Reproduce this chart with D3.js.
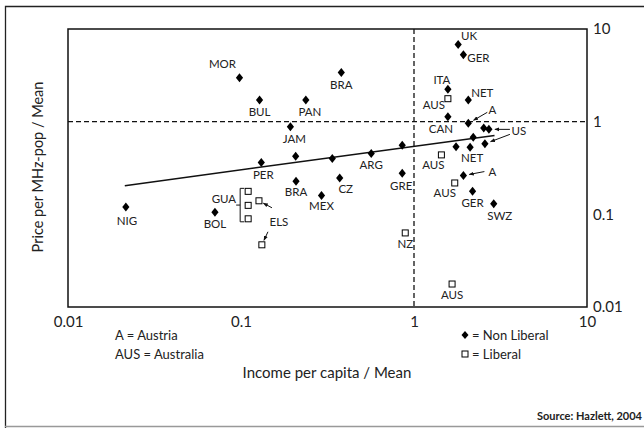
<!DOCTYPE html>
<html>
<head>
  <meta charset="utf-8">
  <script src="https://cdnjs.cloudflare.com/ajax/libs/d3/7.8.5/d3.min.js"></script>
  <title>Price vs income</title>
  <style>
    body { margin: 0; background: #fff; }
    text { font-family: Lato, "Open Sans", sans-serif; fill: #222; }
  </style>
</head>
<body>
<script>
// Non liberal countries (diamonds)
var nlNames = ["MOR","BRA","BUL","PAN","JAM","PER","","","BRA","CZ","MEX","NIG","BOL",
               "ARG","","GRE","UK","GER","ITA","NET","CAN","A","US","US","","","NET","",
               "A","GER","SWZ"];
var nlIncome = [0.098,0.38,0.128,0.237,0.193,0.131,0.207,0.337,0.208,0.372,0.292,0.0216,0.0707,
                0.566,0.855,0.855,1.80,1.93,1.57,2.06,1.57,2.06,2.53,2.71,2.2,1.75,2.11,2.57,
                1.93,2.18,2.89];
var nlPrice = [2.97,3.39,1.71,1.71,0.88,0.362,0.424,0.40,0.227,0.247,0.160,0.12,0.105,
               0.454,0.557,0.277,6.81,5.27,2.24,1.71,1.13,0.96,0.853,0.826,0.68,0.535,0.53,0.577,
               0.262,0.177,0.130];

// Liberal countries (squares)
var libNames = ["AUS","AUS","AUS","AUS","NZ","GUA","GUA","GUA","ELS","ELS"];
var libIncome = [1.57,1.44,1.72,1.66,0.89,0.11,0.11,0.11,0.127,0.132];
var libPrice = [1.77,0.438,0.218,0.0177,0.063,0.177,0.125,0.0895,0.14,0.0469];

// fitted line
var fitIncome = [0.0213, 2.92];
var fitPrice = [0.204, 0.711];

var tickValues = [0.01, 0.1, 1, 10];
var tickLabels = ["0.01", "0.1", "1", "10"];

// label offsets (px) keyed by "type index"; missing = no label
var labelOff = {
  "n0":[-17,-14], "n1":[0,12], "n2":[0,12], "n3":[4,12], "n4":[4,12], "n5":[2,12],
  "n8":[0,11], "n9":[6,11], "n10":[0,11], "n11":[1,14], "n12":[0,12], "n13":[0,12],
  "n15":[-1,13], "n16":[11,-8], "n17":[15,3], "n18":[-6,-9], "n19":[14,-7], "n20":[-7,12],
  "n26":[2,11], "n29":[0,12], "n30":[6,12],
  "l0":[-14,6], "l1":[-8,10], "l2":[-10,10], "l3":[0,11], "l4":[0,11]
};

var W = 644, H = 428;
var m = {left: 68, top: 29, right: 587, bottom: 307};

var svg = d3.select("body").append("svg")
  .attr("width", W).attr("height", H);

svg.append("defs").append("marker")
  .attr("id", "ah").attr("viewBox", "0 0 10 10")
  .attr("refX", 9).attr("refY", 5)
  .attr("markerWidth", 5).attr("markerHeight", 5)
  .attr("orient", "auto")
  .append("path").attr("d", "M0,1 L10,5 L0,9 Z").attr("fill", "#111");

// outer frame
svg.append("path").attr("d", "M5.5,430 V6.5 H650").attr("fill", "none").attr("stroke", "#222").attr("stroke-width", 1.3);
svg.append("line").attr("x1", 5).attr("x2", 650).attr("y1", 426.5).attr("y2", 426.5)
  .attr("stroke", "#999").attr("stroke-width", 1.3);

var x = d3.scaleLog().domain([0.01, 10]).range([m.left, m.right]);
var y = d3.scaleLog().domain([0.01, 10]).range([m.bottom, m.top]);

// reference lines at mean
svg.append("line").attr("x1", x(1)).attr("x2", x(1)).attr("y1", m.top).attr("y2", m.bottom)
  .attr("stroke", "#111").attr("stroke-width", 1.3).attr("stroke-dasharray", "5,3");
svg.append("line").attr("x1", m.left).attr("x2", m.right).attr("y1", y(1)).attr("y2", y(1))
  .attr("stroke", "#111").attr("stroke-width", 1.3).attr("stroke-dasharray", "5,3");

// plot box
svg.append("rect").attr("x", m.left).attr("y", m.top)
  .attr("width", m.right - m.left).attr("height", m.bottom - m.top)
  .attr("fill", "none").attr("stroke", "#111").attr("stroke-width", 1.5);

var xAxis = svg.append("g").attr("transform", "translate(0," + m.bottom + ")")
  .call(d3.axisBottom(x).tickValues(tickValues).tickSize(0).tickPadding(9)
    .tickFormat(function(d, i) { return tickLabels[i]; }));
var yAxis = svg.append("g").attr("transform", "translate(" + m.right + ",0)")
  .call(d3.axisRight(y).tickValues(tickValues).tickSize(0).tickPadding(6)
    .tickFormat(function(d, i) { return tickLabels[i]; }));
[xAxis, yAxis].forEach(function(a) {
  a.select(".domain").remove();
  a.selectAll("text").attr("font-size", 15).attr("font-family", "Lato, sans-serif").attr("fill", "#222");
});

// fitted line
var fit = fitIncome.map(function(d, i) { return [d, fitPrice[i]]; });
svg.append("path").datum(fit)
  .attr("d", d3.line().x(function(d) { return x(d[0]); }).y(function(d) { return y(d[1]); }))
  .attr("stroke", "#111").attr("stroke-width", 1.5).attr("fill", "none");

var nl = nlNames.map(function(n, i) { return {name: n, x: nlIncome[i], y: nlPrice[i], key: "n" + i}; });
var lib = libNames.map(function(n, i) { return {name: n, x: libIncome[i], y: libPrice[i], key: "l" + i}; });

svg.selectAll(".dia").data(nl).enter().append("path")
  .attr("class", "dia")
  .attr("d", "M0,-4.5 L3.6,0 L0,4.5 L-3.6,0 Z")
  .attr("transform", function(d) { return "translate(" + x(d.x) + "," + y(d.y) + ")"; })
  .attr("fill", "#000");

svg.selectAll(".sq").data(lib).enter().append("rect")
  .attr("class", "sq")
  .attr("x", function(d) { return x(d.x) - 3; })
  .attr("y", function(d) { return y(d.y) - 3; })
  .attr("width", 6).attr("height", 6)
  .attr("fill", "#fff").attr("stroke", "#000").attr("stroke-width", 1);

// plain labels
svg.selectAll(".lab").data(nl.concat(lib).filter(function(d) { return labelOff[d.key]; }))
  .enter().append("text")
  .attr("class", "lab")
  .attr("x", function(d) { return x(d.x) + labelOff[d.key][0]; })
  .attr("y", function(d) { return y(d.y) + labelOff[d.key][1]; })
  .attr("dy", "0.35em")
  .attr("text-anchor", "middle")
  .attr("font-size", 11.5)
  .text(function(d) { return d.name; });

// labels with arrows
function pt(key) {
  var d = key[0] === "n" ? nl[+key.slice(1)] : lib[+key.slice(1)];
  return [x(d.x), y(d.y)];
}
function arrow(from, key, gap) {
  var p = pt(key);
  var ang = Math.atan2(p[1] - from[1], p[0] - from[0]);
  svg.append("line")
    .attr("x1", from[0]).attr("y1", from[1])
    .attr("x2", p[0] - Math.cos(ang) * gap).attr("y2", p[1] - Math.sin(ang) * gap)
    .attr("stroke", "#111").attr("stroke-width", 1).attr("marker-end", "url(#ah)");
}
function tag(txt, px, py, anchor) {
  svg.append("text").attr("x", px).attr("y", py).attr("dy", "0.35em")
    .attr("text-anchor", anchor || "middle").attr("font-size", 11.5).text(txt);
}

var a1 = pt("n21");
tag("A", a1[0] + 24, a1[1] - 13);
arrow([a1[0] + 19, a1[1] - 11], "n21", 6);

var a2 = pt("n28");
tag("A", a2[0] + 29, a2[1] - 4);
arrow([a2[0] + 21, a2[1] - 4], "n28", 6);

var us = pt("n23");
tag("US", us[0] + 30, us[1] + 2);
arrow([us[0] + 21, us[1]], "n23", 6);
arrow([us[0] + 21, us[1] + 5], "n27", 6);

var e1 = pt("l8");
tag("ELS", e1[0] + 20, e1[1] + 21);
arrow([e1[0] + 13, e1[1] + 7], "l8", 5);
arrow([e1[0] + 9, e1[1] + 31], "l9", 5);

// GUA bracket
var g0 = pt("l5"), g2 = pt("l7");
var bx = g0[0] - 8;
svg.append("path")
  .attr("d", "M" + (bx + 4) + "," + (g0[1] - 3) + " H" + bx + " V" + (g2[1] + 3) + " H" + (bx + 4)
    + " M" + bx + "," + ((g0[1] + g2[1]) / 2) + " H" + (bx - 4))
  .attr("fill", "none").attr("stroke", "#111").attr("stroke-width", 1);
tag("GUA", bx - 4, (g0[1] + g2[1]) / 2 - 6, "end");

// axis titles
svg.append("text").attr("x", 327).attr("y", 373).attr("dy", "0.35em")
  .attr("text-anchor", "middle").attr("font-size", 15).text("Income per capita / Mean");
svg.append("text").attr("transform", "translate(38,167) rotate(-90)").attr("dy", "0.35em")
  .attr("text-anchor", "middle").attr("font-size", 14.5).text("Price per MHz-pop / Mean");

// legends
var leftLeg = ["A = Austria", "AUS = Australia"];
var rightLeg = ["= Non Liberal", "= Liberal"];
leftLeg.forEach(function(t, i) {
  svg.append("text").attr("x", 115).attr("y", 335 + i * 19).attr("dy", "0.35em")
    .attr("font-size", 13).text(t);
});
rightLeg.forEach(function(t, i) {
  svg.append("text").attr("x", 472).attr("y", 335 + i * 19).attr("dy", "0.35em")
    .attr("font-size", 13).text(t);
});
svg.append("path").attr("d", "M465,331 L468.5,335 L465,339 L461.5,335 Z").attr("fill", "#000");
svg.append("rect").attr("x", 462).attr("y", 351).attr("width", 6).attr("height", 6)
  .attr("fill", "#fff").attr("stroke", "#000");

svg.append("text").attr("x", 642).attr("y", 416).attr("dy", "0.35em")
  .attr("text-anchor", "end").attr("font-size", 11).attr("font-weight", "bold")
  .text("Source: Hazlett, 2004");
</script>
</body>
</html>
